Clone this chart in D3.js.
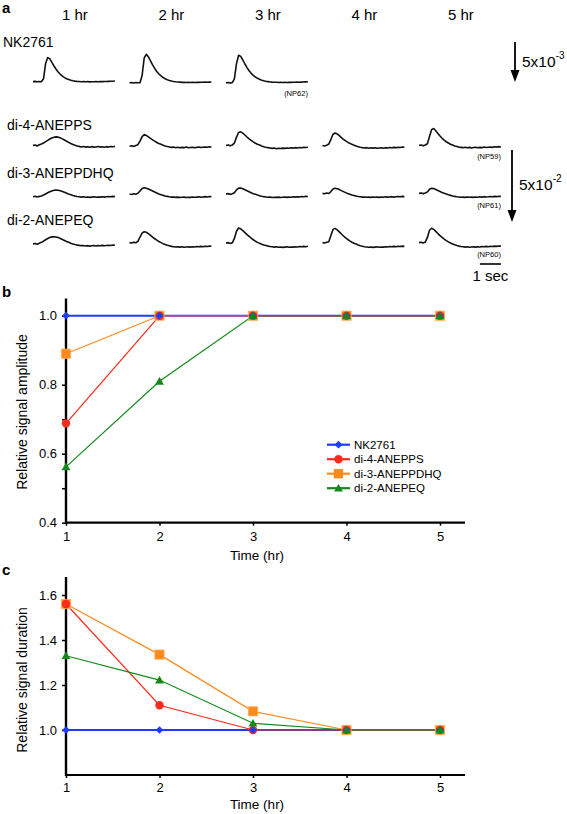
<!DOCTYPE html>
<html><head><meta charset="utf-8">
<script src="https://cdn.jsdelivr.net/npm/d3@7"></script>
<style>body{margin:0;background:#fff}</style>
</head><body>
<svg id="c" width="567" height="814"></svg>
<script>
// ---------------- DATA ----------------
const hours = [1, 2, 3, 4, 5];
const hourLabels = ["1 hr", "2 hr", "3 hr", "4 hr", "5 hr"];
const seriesNames = ["NK2761", "di-4-ANEPPS", "di-3-ANEPPDHQ", "di-2-ANEPEQ"];

// panel b: relative signal amplitude
const ampNK   = [1.0, 1.0, 1.0, 1.0, 1.0];
const ampDi4  = [0.688, 1.0, 1.0, 1.0, 1.0];
const ampDi3  = [0.89, 1.0, 1.0, 1.0, 1.0];
const ampDi2  = [0.562, 0.81, 1.0, 1.0, 1.0];
const ampTicks = [0.4, 0.5, 0.6, 0.7, 0.8, 0.9, 1.0];
const ampLabels = [0.4, 0.6, 0.8, 1.0];

// panel c: relative signal duration
const durNK   = [1.0, 1.0, 1.0, 1.0, 1.0];
const durDi4  = [1.56, 1.11, 1.0, 1.0, 1.0];
const durDi3  = [1.56, 1.335, 1.083, 1.0, 1.0];
const durDi2  = [1.33, 1.222, 1.03, 1.0, 1.0];
const durTicks = [1.0, 1.2, 1.4, 1.6];

// panel a: optical traces, one sample every 0.1 s
const sampleStep = 0.1; // seconds
// NK2761 (units of 1e-3), hours 1..3
const traceNK_1 = [0.05,0.08,0.03,0.06,0.04,0.4,2.3,3.05,2.9,2.45,2.0,1.6,1.25,0.96,0.73,0.55,0.41,0.3,0.22,0.16,0.11,0.08,0.06,0.04,0.06,0.03,0.05,0.02,0.04,0.03,0.05,0.04,0.06,0.05,0.07,0.06,0.08,0.09,0.1,0.12];
const traceNK_2 = [-0.1,-0.08,-0.12,-0.07,-0.1,-0.09,0.8,3.0,3.45,3.15,2.65,2.15,1.7,1.32,1.0,0.76,0.56,0.4,0.28,0.19,0.12,0.07,0.03,0.0,-0.02,-0.05,-0.03,-0.06,-0.04,-0.07,-0.05,-0.06,-0.04,-0.05,-0.03,-0.04,-0.02,-0.03,-0.01,0.0];
const traceNK_3 = [-0.1,-0.07,-0.11,-0.08,0.4,2.3,3.35,3.2,2.75,2.25,1.8,1.4,1.08,0.82,0.62,0.46,0.33,0.23,0.15,0.09,0.05,0.01,-0.02,-0.04,-0.03,-0.06,-0.04,-0.07,-0.05,-0.06,-0.04,-0.05,-0.03,-0.04,-0.02,-0.03,-0.01,0.0,0.02,0.03];
// di-4-ANEPPS (units of 1e-2), hours 1..5
const traceDi4_1 = [0.0,0.04,-0.03,0.05,0.1,0.17,0.27,0.36,0.45,0.52,0.57,0.6,0.58,0.53,0.46,0.38,0.3,0.22,0.14,0.07,0.02,-0.03,-0.06,-0.1,-0.07,-0.11,-0.09,-0.12,-0.08,-0.11,-0.1,-0.07,-0.11,-0.09,-0.12,-0.08,-0.1,-0.07,-0.09,-0.06];
const traceDi4_2 = [-0.05,-0.02,-0.07,0.0,0.06,0.3,0.62,0.76,0.7,0.6,0.49,0.39,0.3,0.21,0.14,0.08,0.02,-0.03,-0.07,-0.1,-0.13,-0.11,-0.15,-0.12,-0.16,-0.13,-0.15,-0.11,-0.16,-0.14,-0.12,-0.15,-0.13,-0.1,-0.14,-0.12,-0.1,-0.12,-0.09,-0.1];
const traceDi4_3 = [0.0,0.04,-0.02,0.03,0.18,0.58,0.9,0.95,0.86,0.73,0.59,0.46,0.35,0.25,0.16,0.09,0.03,-0.03,-0.08,-0.12,-0.15,-0.17,-0.2,-0.17,-0.22,-0.19,-0.21,-0.18,-0.2,-0.17,-0.19,-0.16,-0.18,-0.15,-0.17,-0.14,-0.16,-0.13,-0.14,-0.12];
const traceDi4_4 = [0.0,-0.03,0.02,0.1,0.42,0.78,0.87,0.8,0.68,0.55,0.43,0.32,0.23,0.15,0.08,0.02,-0.04,-0.08,-0.12,-0.15,-0.17,-0.15,-0.19,-0.16,-0.18,-0.15,-0.19,-0.17,-0.16,-0.19,-0.15,-0.17,-0.14,-0.16,-0.13,-0.15,-0.12,-0.14,-0.11,-0.12];
const traceDi4_5 = [0.0,0.03,-0.02,0.04,0.12,0.62,1.1,1.18,1.02,0.84,0.66,0.5,0.37,0.26,0.17,0.09,0.03,-0.03,-0.07,-0.11,-0.13,-0.15,-0.12,-0.16,-0.13,-0.17,-0.14,-0.12,-0.16,-0.13,-0.15,-0.11,-0.14,-0.12,-0.1,-0.13,-0.09,-0.11,-0.08,-0.1];
// di-3-ANEPPDHQ (units of 1e-2)
const traceDi3_1 = [-0.15,-0.12,-0.17,-0.13,-0.1,-0.04,0.04,0.12,0.19,0.25,0.29,0.31,0.3,0.26,0.21,0.15,0.09,0.03,-0.02,-0.07,-0.11,-0.14,-0.16,-0.18,-0.16,-0.19,-0.17,-0.2,-0.18,-0.16,-0.19,-0.17,-0.18,-0.15,-0.18,-0.16,-0.14,-0.16,-0.13,-0.15];
const traceDi3_2 = [0.03,0.0,0.05,0.02,0.08,0.25,0.42,0.47,0.44,0.38,0.31,0.24,0.17,0.1,0.04,-0.01,-0.06,-0.1,-0.13,-0.16,-0.18,-0.17,-0.2,-0.18,-0.21,-0.19,-0.18,-0.21,-0.19,-0.2,-0.17,-0.19,-0.18,-0.16,-0.19,-0.17,-0.15,-0.17,-0.14,-0.16];
const traceDi3_3 = [0.03,0.06,0.01,0.05,0.12,0.32,0.44,0.45,0.4,0.33,0.26,0.19,0.12,0.06,0.01,-0.04,-0.08,-0.12,-0.15,-0.17,-0.19,-0.18,-0.21,-0.19,-0.2,-0.18,-0.21,-0.19,-0.17,-0.2,-0.18,-0.19,-0.16,-0.18,-0.15,-0.17,-0.14,-0.16,-0.13,-0.14];
const traceDi3_4 = [0.08,0.05,0.1,0.07,0.2,0.38,0.43,0.4,0.34,0.27,0.2,0.13,0.07,0.02,-0.03,-0.07,-0.11,-0.14,-0.16,-0.18,-0.17,-0.19,-0.18,-0.2,-0.17,-0.19,-0.18,-0.2,-0.17,-0.19,-0.16,-0.18,-0.17,-0.15,-0.18,-0.16,-0.14,-0.16,-0.13,-0.15];
const traceDi3_5 = [0.08,0.11,0.06,0.1,0.18,0.36,0.43,0.41,0.35,0.28,0.21,0.14,0.08,0.03,-0.02,-0.06,-0.1,-0.13,-0.16,-0.17,-0.19,-0.18,-0.2,-0.17,-0.19,-0.18,-0.2,-0.17,-0.19,-0.16,-0.18,-0.15,-0.17,-0.16,-0.14,-0.16,-0.13,-0.15,-0.12,-0.13];
// di-2-ANEPEQ (units of 1e-2)
const traceDi2_1 = [-0.03,0.0,-0.05,0.02,0.08,0.16,0.26,0.35,0.42,0.46,0.47,0.45,0.41,0.35,0.28,0.21,0.14,0.08,0.02,-0.03,-0.07,-0.1,-0.13,-0.15,-0.14,-0.17,-0.15,-0.18,-0.16,-0.14,-0.17,-0.15,-0.16,-0.13,-0.16,-0.14,-0.12,-0.14,-0.11,-0.12];
const traceDi2_2 = [0.06,0.03,0.08,0.05,0.15,0.45,0.72,0.82,0.78,0.68,0.56,0.44,0.33,0.23,0.14,0.06,-0.01,-0.07,-0.12,-0.16,-0.2,-0.22,-0.24,-0.22,-0.25,-0.23,-0.26,-0.24,-0.22,-0.25,-0.23,-0.24,-0.21,-0.23,-0.2,-0.22,-0.19,-0.21,-0.18,-0.19];
const traceDi2_3 = [0.03,0.06,0.01,0.05,0.35,0.85,1.08,1.02,0.9,0.76,0.62,0.49,0.37,0.26,0.16,0.08,0.01,-0.05,-0.1,-0.14,-0.18,-0.21,-0.23,-0.25,-0.23,-0.26,-0.24,-0.27,-0.25,-0.23,-0.26,-0.24,-0.25,-0.22,-0.24,-0.21,-0.23,-0.2,-0.22,-0.19];
const traceDi2_4 = [0.06,0.03,0.08,0.12,0.55,0.98,1.05,0.95,0.81,0.66,0.52,0.39,0.28,0.18,0.09,0.02,-0.04,-0.1,-0.15,-0.19,-0.22,-0.24,-0.26,-0.24,-0.27,-0.25,-0.23,-0.26,-0.24,-0.25,-0.22,-0.24,-0.21,-0.23,-0.2,-0.22,-0.19,-0.21,-0.18,-0.2];
const traceDi2_5 = [0.06,0.09,0.04,0.1,0.42,0.92,1.06,0.98,0.84,0.69,0.55,0.42,0.3,0.2,0.11,0.03,-0.03,-0.09,-0.14,-0.18,-0.21,-0.23,-0.25,-0.23,-0.26,-0.24,-0.22,-0.25,-0.23,-0.24,-0.21,-0.23,-0.2,-0.22,-0.19,-0.21,-0.18,-0.2,-0.17,-0.18];

const traceRunLabels = ["(NP62)", "(NP59)", "(NP61)", "(NP60)"];
const scaleBarValue = 5; // arrow length, in row units (5x10^-3 / 5x10^-2)
const scaleBarSeconds = 1;

// ---------------- DRAWING ----------------
const FONT = "'Liberation Sans', Arial, Helvetica, sans-serif";
const svg = d3.select("#c").attr("font-family", FONT);

const colors = { "NK2761": "#1e3cff", "di-4-ANEPPS": "#ff2b1c", "di-3-ANEPPDHQ": "#ff8a1c", "di-2-ANEPEQ": "#13891a" };

// panel letters
[["a", 13], ["b", 297], ["c", 575]].forEach(([t, y]) =>
  svg.append("text").attr("x", 2).attr("y", y).attr("font-size", 15).attr("font-weight", "bold").text(t));

// ---- panel a ----
const colStart = d3.scalePoint().domain(hours).range([33, 419]);
const tScale = d3.scaleLinear().domain([0, 1]).range([0, 21]); // px offset per second
const traceWidth = tScale(3.9);

svg.selectAll(".hdr").data(hours).enter().append("text")
  .attr("x", h => colStart(h) + traceWidth / 2 + 1).attr("y", 20)
  .attr("text-anchor", "middle").attr("font-size", 15).text((h, i) => hourLabels[i]);

const rows = [
  { name: "NK2761", labelX: 3, labelY: 47, base: 82, ppu: 8, traces: [traceNK_1, traceNK_2, traceNK_3] },
  { name: "di-4-ANEPPS", labelX: 7, labelY: 130, base: 145.5, ppu: 14.4, traces: [traceDi4_1, traceDi4_2, traceDi4_3, traceDi4_4, traceDi4_5] },
  { name: "di-3-ANEPPDHQ", labelX: 7, labelY: 178, base: 194.5, ppu: 14.4, traces: [traceDi3_1, traceDi3_2, traceDi3_3, traceDi3_4, traceDi3_5] },
  { name: "di-2-ANEPEQ", labelX: 7, labelY: 225, base: 243.5, ppu: 14.4, traces: [traceDi2_1, traceDi2_2, traceDi2_3, traceDi2_4, traceDi2_5] }
];

rows.forEach((r, ri) => {
  svg.append("text").attr("x", r.labelX).attr("y", r.labelY).attr("font-size", 14).text(r.name);
  const y = d3.scaleLinear().domain([0, 1]).range([r.base, r.base - r.ppu]);
  r.traces.forEach((tr, ti) => {
    const x0 = colStart(hours[ti]);
    const line = d3.line().x((d, i) => x0 + tScale(i * sampleStep)).y(d => y(d));
    svg.append("path").attr("d", line(tr)).attr("fill", "none")
      .attr("stroke", "#111").attr("stroke-width", 1.6).attr("stroke-linejoin", "round");
  });
  const lastX = colStart(hours[r.traces.length - 1]) + traceWidth;
  svg.append("text").attr("x", lastX).attr("y", r.base + (ri === 0 ? 14 : 13))
    .attr("text-anchor", "end").attr("font-size", 7.5).text(traceRunLabels[ri]);
});

// vertical calibration arrows
function arrow(x, top, ppu, label, sup, lx, ly) {
  const yA = d3.scaleLinear().domain([0, 1]).range([top, top + ppu]);
  const bottom = yA(scaleBarValue);
  svg.append("line").attr("x1", x).attr("x2", x).attr("y1", top).attr("y2", bottom - 10)
    .attr("stroke", "#000").attr("stroke-width", 1.8);
  svg.append("path").attr("d", `M${x - 4.5},${bottom - 12}L${x + 4.5},${bottom - 12}L${x},${bottom}Z`).attr("fill", "#000");
  const t = svg.append("text").attr("x", lx).attr("y", ly).attr("font-size", 15.5).text(label);
  t.append("tspan").attr("dy", -8).attr("font-size", 10).text(sup);
}
arrow(515, 42, rows[0].ppu, "5x10", "-3", 522, 67);
arrow(512, 150, rows[1].ppu, "5x10", "-2", 519, 190);

// time scale bar
const sbX = colStart(5) + traceWidth - tScale(scaleBarSeconds);
svg.append("line").attr("x1", sbX).attr("x2", sbX + tScale(scaleBarSeconds)).attr("y1", 264).attr("y2", 264)
  .attr("stroke", "#000").attr("stroke-width", 1.6);
svg.append("text").attr("x", sbX + tScale(scaleBarSeconds) / 2).attr("y", 281).attr("text-anchor", "middle")
  .attr("font-size", 15).text(scaleBarSeconds + " sec");

// ---- panels b & c ----
const xLin = d3.scaleLinear().domain([1, 5]).range([66, 440]);
const axisRight = 465;

const markerDefs = {
  "NK2761": { type: d3.symbolSquare, size: 30, rotate: 45 },
  "di-4-ANEPPS": { type: d3.symbolCircle, size: 56, rotate: 0 },
  "di-3-ANEPPDHQ": { type: d3.symbolSquare, size: 86, rotate: 0 },
  "di-2-ANEPEQ": { type: d3.symbolTriangle, size: 34, rotate: 0 }
};
const lineWidth = { "NK2761": 2, "di-4-ANEPPS": 1.2, "di-3-ANEPPDHQ": 1.2, "di-2-ANEPEQ": 1.2 };

function panel(opts) {
  const { y, values, ticks, labels, title, titleY, axisY, labelOffset, legend } = opts;
  const g = svg.append("g");
  const ya = d3.axisLeft(y).tickValues(ticks).tickSize(4).tickPadding(5)
    .tickFormat(d => labels.some(l => Math.abs(l - d) < 1e-9) ? d3.format(".1f")(d) : "");
  const yg = g.append("g").attr("transform", `translate(${xLin(1)},0)`).call(ya);
  yg.select(".domain").remove();
  yg.selectAll("line").attr("stroke", "#000").attr("stroke-width", 1.5);
  yg.selectAll("text").attr("font-size", 13).attr("font-family", FONT).attr("fill", "#000");
  const xa = d3.axisBottom(xLin).tickValues(hours).tickSize(3).tickPadding(labelOffset).tickFormat(d3.format("d"));
  const xg = g.append("g").attr("transform", `translate(0,${y(axisY)})`).call(xa);
  xg.select(".domain").remove();
  xg.selectAll("line").attr("stroke", "#000").attr("stroke-width", 1.5);
  xg.selectAll("text").attr("font-size", 13).attr("font-family", FONT).attr("fill", "#000");
  const [yb, yt] = y.range();
  g.append("line").attr("x1", xLin(1)).attr("x2", xLin(1)).attr("y1", yb + 1).attr("y2", yt)
    .attr("stroke", "#000").attr("stroke-width", 2.4);
  g.append("line").attr("x1", xLin(1) - 1).attr("x2", axisRight).attr("y1", y(axisY)).attr("y2", y(axisY))
    .attr("stroke", "#000").attr("stroke-width", 2.2);
  g.append("text").attr("transform", `translate(27,${titleY}) rotate(-90)`).attr("text-anchor", "middle")
    .attr("font-size", 14).text(title);
  g.append("text").attr("x", xLin(3) + 4).attr("y", y(axisY) + opts.xtitleDy).attr("text-anchor", "middle")
    .attr("font-size", 13.5).text("Time (hr)");
  const lineOrder = ["NK2761", "di-3-ANEPPDHQ", "di-4-ANEPPS", "di-2-ANEPEQ"];
  const line = d3.line().x((d, i) => xLin(hours[i])).y(d => y(d));
  lineOrder.forEach(n => {
    g.append("path").attr("d", line(values[n])).attr("fill", "none")
      .attr("stroke", colors[n]).attr("stroke-width", lineWidth[n]);
  });
  const markerOrder = ["di-3-ANEPPDHQ", "di-4-ANEPPS", "NK2761", "di-2-ANEPEQ"];
  markerOrder.forEach(n => {
    const m = markerDefs[n];
    const sym = d3.symbol().type(m.type).size(m.size);
    g.selectAll(null).data(values[n]).enter().append("path")
      .attr("d", sym)
      .attr("transform", (d, i) => `translate(${xLin(hours[i])},${y(d) + (m.type === d3.symbolTriangle ? 0.8 : 0)}) rotate(${m.rotate})`)
      .attr("fill", colors[n])
      .attr("stroke", n === "di-3-ANEPPDHQ" ? "#ffae60" : "none").attr("stroke-width", 0.8);
  });
  if (legend) {
    const legendOrder = ["NK2761", "di-4-ANEPPS", "di-3-ANEPPDHQ", "di-2-ANEPEQ"];
    legendOrder.forEach((n, i) => {
      const ly = 444.7 + i * 14.5;
      g.append("line").attr("x1", 327).attr("x2", 350).attr("y1", ly).attr("y2", ly)
        .attr("stroke", colors[n]).attr("stroke-width", 2.2);
      const m = markerDefs[n];
      g.append("path").attr("d", d3.symbol().type(m.type).size(m.size)())
        .attr("transform", `translate(338.5,${ly + (m.type === d3.symbolTriangle ? 0.8 : 0)}) rotate(${m.rotate})`)
        .attr("fill", colors[n]);
      g.append("text").attr("x", 354).attr("y", ly + 4.2).attr("font-size", 11.5).text(n);
    });
  }
}

const yAmp = d3.scaleLinear().domain([0.4, 1.05]).range([522.7, 298.5]);
panel({
  y: yAmp,
  values: { "NK2761": ampNK, "di-4-ANEPPS": ampDi4, "di-3-ANEPPDHQ": ampDi3, "di-2-ANEPEQ": ampDi2 },
  ticks: ampTicks, labels: ampLabels, axisY: 0.4,
  title: "Relative signal amplitude", titleY: 412, labelOffset: 6, xtitleDy: 37, legend: true
});

const yDur = d3.scaleLinear().domain([0.8, 1.68]).range([775, 577]);
panel({
  y: yDur,
  values: { "NK2761": durNK, "di-4-ANEPPS": durDi4, "di-3-ANEPPDHQ": durDi3, "di-2-ANEPEQ": durDi2 },
  ticks: durTicks, labels: durTicks, axisY: 0.8,
  title: "Relative signal duration", titleY: 680, labelOffset: 5, xtitleDy: 34, legend: false
});
</script>
</body></html>
